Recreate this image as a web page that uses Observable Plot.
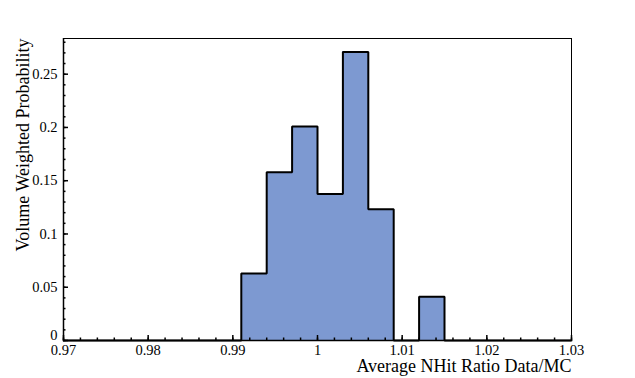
<!DOCTYPE html>
<html><head><meta charset="utf-8">
<script src="https://cdn.jsdelivr.net/npm/d3@7"></script>
<script src="https://cdn.jsdelivr.net/npm/@observablehq/plot@0.6"></script>
<style>body{margin:0;background:#fff}</style>
</head><body><div id="chart"></div>
<script>
// Histogram bins (low edges), common bin width, and bin contents
const binLow = [0.991, 0.994, 0.997, 1.000, 1.003, 1.006, 1.009, 1.012];
const binWidth = 0.003;
const probability = [0.0628, 0.158, 0.2009, 0.1375, 0.2709, 0.1231, 0, 0.0411];
const xTicks = [0.97, 0.98, 0.99, 1, 1.01, 1.02, 1.03];
const yTicks = [0.05, 0.1, 0.15, 0.2, 0.25];
const yZeroTick = [0];
const xDomain = [0.97, 1.03];
const yDomain = [0, 0.2835];
const xTitle = "Average NHit Ratio Data/MC";
const yTitle = "Volume Weighted Probability";

const bins = binLow.map((lo, i) => ({lo, hi: lo + binWidth, p: probability[i]}));
const outline = [
  {x: xDomain[0], y: 0},
  ...bins.map(b => ({x: b.lo, y: b.p})),
  {x: bins[bins.length - 1].hi, y: 0},
  {x: xDomain[1], y: 0}
];

const labelSize = 14.5;
const titleSize = 18;

const chart = Plot.plot({
  width: 635,
  height: 378,
  marginLeft: 63,
  marginRight: 64,
  marginTop: 38,
  marginBottom: 38,
  style: {fontFamily: "'Liberation Serif', 'Times New Roman', serif", color: "black", background: "white"},
  x: {domain: xDomain, axis: null},
  y: {domain: yDomain, axis: null},
  marks: [
    Plot.rectY(bins, {x1: "lo", x2: "hi", y: "p", fill: "#7d99d1", shapeRendering: "crispEdges"}),
    Plot.line(outline, {x: "x", y: "y", curve: "step-after", stroke: "black", strokeWidth: 2, strokeLinejoin: "miter"}),
    Plot.frame({stroke: "black", strokeWidth: 1}),
    // x axis: major and minor ticks drawn inward
    Plot.axisX(xTicks, {anchor: "bottom", tickSize: -5, tickFormat: () => "", strokeWidth: 1.5}),
    Plot.axisX({anchor: "bottom", ticks: 30, tickSize: -2.5, tickFormat: () => "", strokeWidth: 1.5}),
    // y axis
    Plot.axisY([0, ...yTicks], {anchor: "left", tickSize: -5, tickFormat: () => "", strokeWidth: 1.5}),
    Plot.axisY({anchor: "left", ticks: 28, tickSize: -2.5, tickFormat: () => "", strokeWidth: 1.5}),
    Plot.ruleY([0], {stroke: "black", strokeWidth: 1.5}),
    Plot.ruleX([xDomain[0]], {stroke: "black", strokeWidth: 1.5}),
    // tick labels
    Plot.text(xTicks, {x: d => d, frameAnchor: "bottom", lineAnchor: "top", dy: 4, text: d => String(d), fontSize: labelSize}),
    Plot.text(yTicks, {y: d => d, frameAnchor: "left", textAnchor: "end", dx: -6, text: d => String(d), fontSize: labelSize}),
    Plot.text(yZeroTick, {y: d => d, frameAnchor: "left", textAnchor: "end", dx: -6, dy: -5, text: d => String(d), fontSize: labelSize}),
    // axis titles
    Plot.text([xTitle], {frameAnchor: "bottom-right", text: d => d, textAnchor: "end", lineAnchor: "bottom", dy: 31, fontSize: titleSize}),
    Plot.text([yTitle], {frameAnchor: "top-left", text: d => d, textAnchor: "end", lineAnchor: "middle", rotate: -90, dx: -40, fontSize: titleSize})
  ]
});
document.getElementById("chart").appendChild(chart);
</script>
</body></html>
